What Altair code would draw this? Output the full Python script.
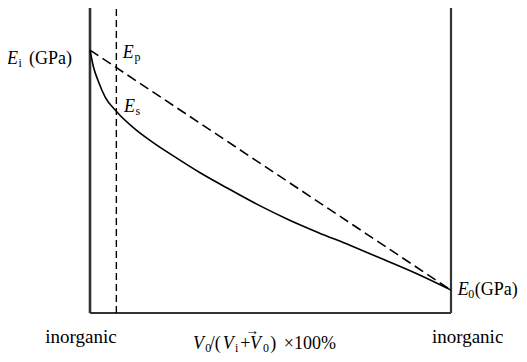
import altair as alt
import pandas as pd

# Solid curve (E_s path), x = volume fraction %, y = modulus (relative units)
curve_x = [0, 1, 2.3, 4.2, 7.4, 12.5, 17.1, 23.5, 30.5, 38, 47, 55, 63, 72, 82, 91, 100]
curve_y = [86.2, 80.5, 76.0, 70.8, 66.0, 60.3, 56.2, 51.2, 46.0, 41.0, 35.2, 30.6, 26.5, 22.2, 17.2, 12.6, 7.5]

# Dashed straight line (E_p, rule of mixtures)
line_x = [0, 100]
line_y = [86.2, 7.5]

# Vertical dashed marker position
marker_x = 7.3

# Annotation text pieces
it_text = ["E", "E", "E", "E", "V", "V", "V"]
it_x = [-23.0, 9.1, 9.4, 101.9, 28.5, 36.8, 44.3]
it_y = [81.6, 83.6, 65.9, 5.9, -11.8, -11.8, -11.8]

up_text = ["(GPa)", "(GPa)", "/(", "+", ")", "×100%"]
up_x = [-16.9, 106.6, 33.2, 41.6, 49.9, 53.7]
up_y = [81.6, 5.9, -11.8, -11.8, -11.8, -11.8]

sub_text = ["i", "p", "s", "0", "0", "i", "0"]
sub_x = [-19.8, 12.3, 12.6, 104.8, 31.9, 40.2, 47.9]
sub_y = [80.7, 82.6, 64.9, 4.9, -12.8, -12.8, -12.8]

end_text = ["inorganic", "inorganic"]
end_x = [-2.5, 104.6]
end_y = [-9.84, -9.84]

arrow_text = ["→"]
arrow_x = [43.0]
arrow_y = [-7.2]

FONT = "'Liberation Serif', 'DejaVu Serif', serif"
xs = alt.Scale(domain=[0, 100], nice=False, zero=False)
ys = alt.Scale(domain=[0, 100], nice=False, zero=False)

def X(f="x"):
    return alt.X(f"{f}:Q", scale=xs, axis=None)

def Y(f="y"):
    return alt.Y(f"{f}:Q", scale=ys, axis=None)

curve_df = pd.DataFrame({"x": curve_x, "y": curve_y})
line_df = pd.DataFrame({"x": line_x, "y": line_y})

frame_v = pd.DataFrame({"x": [0, 100], "y": [0, 0], "y2": [100, 100], "w": [2.6, 2.2]})
frame_h = pd.DataFrame({"x": [0], "x2": [100], "y": [0]})
marker_df = pd.DataFrame({"x": [marker_x], "y": [0], "y2": [100]})

vrules = alt.Chart(frame_v).mark_rule(color="#333333").encode(
    x=X(), y=Y(), y2="y2:Q", strokeWidth=alt.StrokeWidth("w:Q", scale=None))
hrule = alt.Chart(frame_h).mark_rule(color="#333333", strokeWidth=2.2).encode(
    x=X(), x2="x2:Q", y=Y())
marker = alt.Chart(marker_df).mark_rule(color="black", strokeWidth=1.4, strokeDash=[7, 4]).encode(
    x=X(), y=Y(), y2="y2:Q")

curve = alt.Chart(curve_df).mark_line(color="black", strokeWidth=1.6, interpolate="monotone").encode(
    x=X(), y=Y(), order="x:Q")
dline = alt.Chart(line_df).mark_line(color="black", strokeWidth=1.6, strokeDash=[10, 5]).encode(
    x=X(), y=Y())

def text_layer(texts, xv, yv, size, italic=False, align="left"):
    df = pd.DataFrame({"x": xv, "y": yv, "t": texts})
    kw = dict(align=align, baseline="alphabetic", font=FONT, fontSize=size, color="black")
    if italic:
        kw["fontStyle"] = "italic"
    return alt.Chart(df).mark_text(**kw).encode(x=X(), y=Y(), text="t:N")

layers = [
    vrules, hrule, marker, dline, curve,
    text_layer(it_text, it_x, it_y, 18, italic=True),
    text_layer(up_text, up_x, up_y, 18),
    text_layer(sub_text, sub_x, sub_y, 12),
    text_layer(end_text, end_x, end_y, 19, align="center"),
    text_layer(arrow_text, arrow_x, arrow_y, 14),
]

chart = alt.layer(*layers).properties(
    width=361, height=305,
    autosize=alt.AutoSizeParams(type="none"),
    padding={"left": 82, "top": 0, "right": 68, "bottom": 41},
).configure_view(strokeWidth=0)

chart.save("out.html", embed_options={"renderer": "svg", "actions": False})
